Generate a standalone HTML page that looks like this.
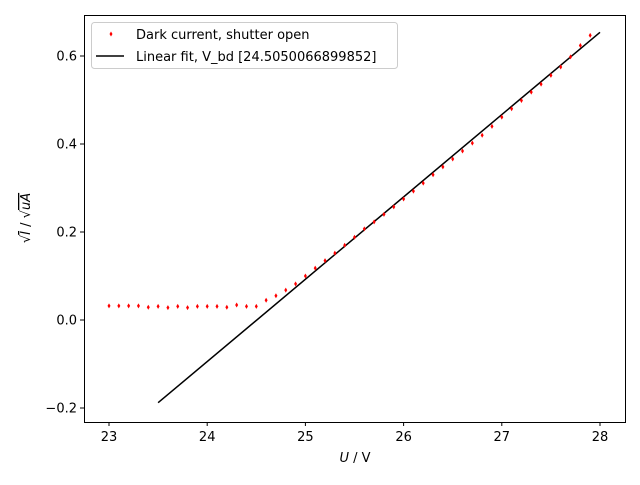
<!DOCTYPE html>
<html><head><meta charset="utf-8"><style>
body{margin:0;background:#fff}
svg text{font-family:"DejaVu Sans","Liberation Sans",sans-serif;font-size:13px;fill:#000}
</style></head><body>
<svg id="c" width="640" height="480" viewBox="0 0 640 480">
<rect x="0" y="0" width="640" height="480" fill="#fff"/>
<g id="marks"></g>
<rect x="84.5" y="15.5" width="541" height="407" fill="none" stroke="#000" stroke-width="1"/>
<g id="ticks"></g>
<text x="355" y="462" text-anchor="middle"><tspan font-style="italic">U</tspan> / V</text>
<text transform="translate(30,218) rotate(-90)" text-anchor="middle">√<tspan font-style="italic" text-decoration="overline">I</tspan> / √<tspan font-style="italic" text-decoration="overline">uA</tspan></text>
<g>
<rect x="91.5" y="22.5" width="306" height="46" rx="3" fill="#fff" fill-opacity="0.8" stroke="#ccc"/>
<path d="M111,31.5 L112.5,34 L111,36.5 L109.5,34 Z" fill="red"/>
<text x="136" y="39">Dark current, shutter open</text>
<line x1="96" y1="56" x2="124" y2="56" stroke="#000" stroke-width="1.5"/>
<text x="136" y="61">Linear fit, V_bd [24.5050066899852]</text>
</g>
</svg>
<script>
const xValues=[23.0,23.1,23.2,23.3,23.4,23.5,23.6,23.7,23.8,23.9,24.0,24.1,24.2,24.3,24.4,24.5,24.6,24.7,24.8,24.9,25.0,25.1,25.2,25.3,25.4,25.5,25.6,25.7,25.8,25.9,26.0,26.1,26.2,26.3,26.4,26.5,26.6,26.7,26.8,26.9,27.0,27.1,27.2,27.3,27.4,27.5,27.6,27.7,27.8,27.9];
const yValues=[0.032,0.032,0.032,0.032,0.029,0.031,0.028,0.031,0.028,0.031,0.031,0.031,0.029,0.034,0.031,0.031,0.045,0.055,0.068,0.082,0.10,0.118,0.135,0.152,0.17,0.188,0.207,0.223,0.24,0.257,0.275,0.293,0.311,0.33,0.348,0.366,0.384,0.402,0.42,0.44,0.461,0.48,0.499,0.518,0.536,0.556,0.575,0.598,0.624,0.647];
const fitRange=[23.5,28.0];
const fitSlope=0.1871;
const fitVbd=24.5050066899852;
const xTicks=[23,24,25,26,27,28];
const yTicks=[-0.2,0.0,0.2,0.4,0.6];
const yTickLabels=["\u22120.2","0.0","0.2","0.4","0.6"];
const X=v=>109+(v-23)*98.2;
const Y=v=>320-v*440;
const NS="http://www.w3.org/2000/svg";
const marks=document.getElementById('marks'),ticks=document.getElementById('ticks');
function mk(tag,attrs,parent){const e=document.createElementNS(NS,tag);for(const k in attrs)e.setAttribute(k,attrs[k]);parent.appendChild(e);return e;}
const fl=mk('line',{x1:X(fitRange[0]),y1:Y(fitSlope*(fitRange[0]-fitVbd)),x2:X(fitRange[1]),y2:Y(fitSlope*(fitRange[1]-fitVbd)),stroke:'#000','stroke-width':1.5},marks);


xValues.forEach((x,i)=>{const cx=X(x),cy=Y(yValues[i]);
const p=mk('path',{d:`M${cx},${cy-2.5} L${cx+1.5},${cy} L${cx},${cy+2.5} L${cx-1.5},${cy} Z`,fill:'red'},marks);

});
xTicks.forEach(t=>{const x=X(t);
const l=mk('line',{x1:x,y1:422,x2:x,y2:426,stroke:'#000'},ticks);


const tx=mk('text',{x:x,y:441,'text-anchor':'middle'},ticks);tx.textContent=t;

});
yTicks.forEach((t,i)=>{const y=Y(t);
const l=mk('line',{x1:80,y1:y,x2:84,y2:y,stroke:'#000'},ticks);


const tx=mk('text',{x:77,y:y+4.5,'text-anchor':'end'},ticks);tx.textContent=yTickLabels[i];

});
</script>
</body></html>
